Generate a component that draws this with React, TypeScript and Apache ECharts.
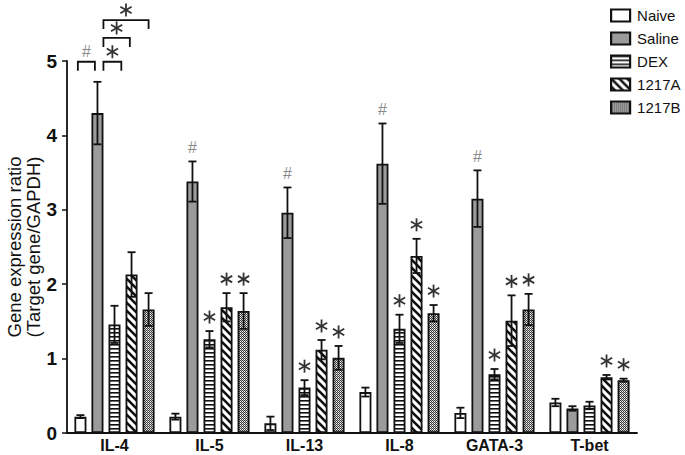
import React, { useEffect, useRef } from "react";
import * as echarts from "echarts";

const categories = ["IL-4", "IL-5", "IL-13", "IL-8", "GATA-3", "T-bet"];
const groupNames = ["Naive", "Saline", "DEX", "1217A", "1217B"];

const naive = [0.22, 0.22, 0.13, 0.55, 0.27, 0.41];
const saline = [4.3, 3.38, 2.96, 3.62, 3.15, 0.33];
const dex = [1.46, 1.26, 0.61, 1.4, 0.79, 0.37];
const a1217 = [2.13, 1.69, 1.12, 2.38, 1.51, 0.75];
const b1217 = [1.66, 1.64, 1.01, 1.61, 1.66, 0.71];

const naiveErr = [0.02, 0.04, 0.09, 0.06, 0.07, 0.05];
const salineErr = [0.42, 0.27, 0.34, 0.54, 0.38, 0.03];
const dexErr = [0.25, 0.11, 0.1, 0.19, 0.07, 0.05];
const a1217Err = [0.3, 0.19, 0.13, 0.23, 0.34, 0.03];
const b1217Err = [0.22, 0.24, 0.16, 0.11, 0.21, 0.02];

const naiveMarks = ["", "", "", "", "", ""];
const salineMarks = ["", "#", "#", "#", "#", ""];
const dexMarks = ["", "*", "*", "*", "*", ""];
const a1217Marks = ["", "*", "*", "*", "*", "*"];
const b1217Marks = ["", "*", "*", "*", "*", "*"];

// IL-4 comparison brackets (group positions, value level, mark)
const bracketCategory = [0, 0, 0, 0];
const bracketFrom = [-0.15, 1.35, 1.35, 1.35];
const bracketTo = [0.85, 2.4, 2.9, 4.0];
const bracketLevel = [4.99, 4.99, 5.31, 5.55];
const bracketMark = ["#", "*", "*", "*"];

const yTicks = [0, 1, 2, 3, 4, 5];

const FONT = "'Liberation Sans', Arial, Helvetica, sans-serif";
const BAR_W = 12;
const BAR_GAP = 0.42;
const PITCH = BAR_W * (1 + BAR_GAP);

function makePattern(kind: string): any {
  const c = document.createElement("canvas");
  let w = 4, h = 4;
  if (kind === "h") { w = 4; h = 4; }
  if (kind === "d") { w = 8; h = 8; }
  if (kind === "x") { w = 2; h = 2; }
  c.width = w; c.height = h;
  const ctx = c.getContext("2d")!;
  ctx.fillStyle = "#ffffff";
  ctx.fillRect(0, 0, w, h);
  ctx.fillStyle = "#111";
  ctx.strokeStyle = "#111";
  if (kind === "h") {
    ctx.fillRect(0, 0, w, 1.6);
  } else if (kind === "d") {
    ctx.lineWidth = 2.6;
    ctx.beginPath();
    ctx.moveTo(-2, -2); ctx.lineTo(w + 2, h + 2);
    ctx.moveTo(-2 - w, -2); ctx.lineTo(2, h + 2);
    ctx.moveTo(w - 2, -2 - h); ctx.lineTo(w + 2 + w, h + 2);
    ctx.moveTo(-2, -2 - h); ctx.lineTo(w + 2, 2);
    ctx.moveTo(-2, h - 2); ctx.lineTo(2, h + 2);
    ctx.stroke();
  } else if (kind === "x") {
    ctx.fillStyle = "#3a3a3a";
    ctx.fillRect(0, 0, 1, 1);
    ctx.fillRect(1, 1, 1, 1);
    ctx.fillStyle = "#bbbbbb";
    ctx.fillRect(1, 0, 1, 1);
  }
  return { image: c, repeat: "repeat" };
}

const seriesVals = [naive, saline, dex, a1217, b1217];
const seriesErrs = [naiveErr, salineErr, dexErr, a1217Err, b1217Err];
const seriesMarks = [naiveMarks, salineMarks, dexMarks, a1217Marks, b1217Marks];

function starShape(cx: number, cy: number, r: number, color: string) {
  const out: any[] = [];
  for (let k = 0; k < 3; k++) {
    const ang = Math.PI / 2 + (k * Math.PI) / 3;
    const dx = Math.cos(ang) * r, dy = Math.sin(ang) * r;
    out.push({
      type: "line",
      shape: { x1: cx - dx, y1: cy - dy, x2: cx + dx, y2: cy + dy },
      style: { stroke: color, lineWidth: 1.8 },
    });
  }
  return out;
}

function markShape(mark: string, cx: number, cy: number) {
  if (mark === "*") return starShape(cx, cy, 6.5, "#333");
  if (mark === "#")
    return [{
      type: "text",
      style: {
        text: "#", x: cx, y: cy, align: "center", verticalAlign: "middle",
        fontSize: 16, fontFamily: FONT, fill: "#8a8a8a",
      },
    }];
  return [];
}

export default function App() {
  const ref = useRef<HTMLDivElement>(null);
  useEffect(() => {
    if (!ref.current) return;
    const chart = echarts.init(ref.current, null, { renderer: "svg" });
    const fills = ["#ffffff", "#9b9b9b", makePattern("h"), makePattern("d"), makePattern("x")];

    const barSeries = groupNames.map((name, i) => ({
      name,
      type: "bar",
      data: seriesVals[i],
      barWidth: BAR_W,
      barGap: `${BAR_GAP * 100}%`,
      itemStyle: { color: fills[i], borderColor: "#111", borderWidth: 1.8 },
      z: 2,
    }));

    const errData: number[][] = [];
    seriesVals.forEach((vals, s) => {
      vals.forEach((v, c) => errData.push([c, s, v, seriesErrs[s][c]]));
    });

    const errSeries = {
      type: "custom",
      clip: false,
      z: 5,
      encode: { x: 0, y: 2 },
      data: errData,
      renderItem: (params: any, api: any) => {
        const c = api.value(0), s = api.value(1), v = api.value(2), e = api.value(3);
        const base = api.coord([c, 0]);
        const x = base[0] + (s - 2) * PITCH;
        const yTop = api.coord([c, v + e])[1];
        const yBot = api.coord([c, Math.max(0, v - e)])[1];
        const cap = 4;
        const st = { stroke: "#111", lineWidth: 1.8 };
        const children: any[] = [
          { type: "line", shape: { x1: x, y1: yTop, x2: x, y2: yBot }, style: st },
          { type: "line", shape: { x1: x - cap, y1: yTop, x2: x + cap, y2: yTop }, style: st },
          { type: "line", shape: { x1: x - cap, y1: yBot, x2: x + cap, y2: yBot }, style: st },
        ];
        const mark = seriesMarks[s][c];
        children.push(...markShape(mark, x, yTop - 14));
        return { type: "group", children };
      },
    };

    const brData = bracketCategory.map((c, i) => [c, bracketFrom[i], bracketTo[i], bracketLevel[i], i]);
    const bracketSeries = {
      type: "custom",
      clip: false,
      z: 5,
      encode: { x: 0, y: 3 },
      data: brData,
      renderItem: (params: any, api: any) => {
        const c = api.value(0), f = api.value(1), t = api.value(2), lv = api.value(3), idx = api.value(4);
        const base = api.coord([c, 0]);
        const x1 = base[0] + (f - 2) * PITCH;
        const x2 = base[0] + (t - 2) * PITCH;
        const y = api.coord([c, lv])[1];
        const leg = 9;
        const st = { stroke: "#111", lineWidth: 1.8, fill: null };
        const children: any[] = [
          { type: "polyline", shape: { points: [[x1, y + leg], [x1, y], [x2, y], [x2, y + leg]] }, style: st },
        ];
        children.push(...markShape(bracketMark[idx], (x1 + x2) / 2, y - 10));
        return { type: "group", children };
      },
    };

    chart.setOption({
      animation: false,
      textStyle: { fontFamily: FONT },
      grid: { left: 67, right: 48, top: 61, bottom: 22, containLabel: false, outerBoundsMode: "none" },
      legend: {
        data: groupNames,
        orient: "vertical",
        left: 605,
        top: 3,
        itemWidth: 19,
        itemHeight: 12,
        itemGap: 8,
        icon: "rect",
        itemStyle: { borderWidth: 2.2 },
        textStyle: { fontSize: 15, color: "#111", fontFamily: FONT, padding: [0, 0, 0, 2] },
      },
      xAxis: {
        type: "category",
        data: categories,
        axisLine: { lineStyle: { color: "#111", width: 1.8 } },
        axisTick: { alignWithLabel: true, length: 5, lineStyle: { color: "#111", width: 1.5 } },
        axisLabel: { fontSize: 16, fontWeight: "bold", color: "#111", margin: 4, lineHeight: 16, fontFamily: FONT },
      },
      yAxis: {
        type: "value",
        min: 0,
        max: yTicks[yTicks.length - 1],
        interval: 1,
        name: "Gene expression ratio\n(Target gene/GAPDH)",
        nameLocation: "middle",
        nameGap: 24,
        nameMoveOverlap: false,
        nameTextStyle: { fontSize: 18.5, color: "#111", lineHeight: 19, fontFamily: FONT },
        axisLine: { show: true, lineStyle: { color: "#111", width: 1.8 } },
        axisTick: { show: true, length: 5, lineStyle: { color: "#111", width: 1.5 } },
        axisLabel: { fontSize: 19, fontWeight: "bold", color: "#111", margin: 10, fontFamily: FONT },
        splitLine: { show: false },
      },
      series: [...barSeries, errSeries, bracketSeries],
    });
    return () => chart.dispose();
  }, []);
  return (
    <div
      ref={ref}
      style={{ position: "fixed", left: 0, top: 0, width: 685, height: 455, background: "#fff" }}
    />
  );
}
